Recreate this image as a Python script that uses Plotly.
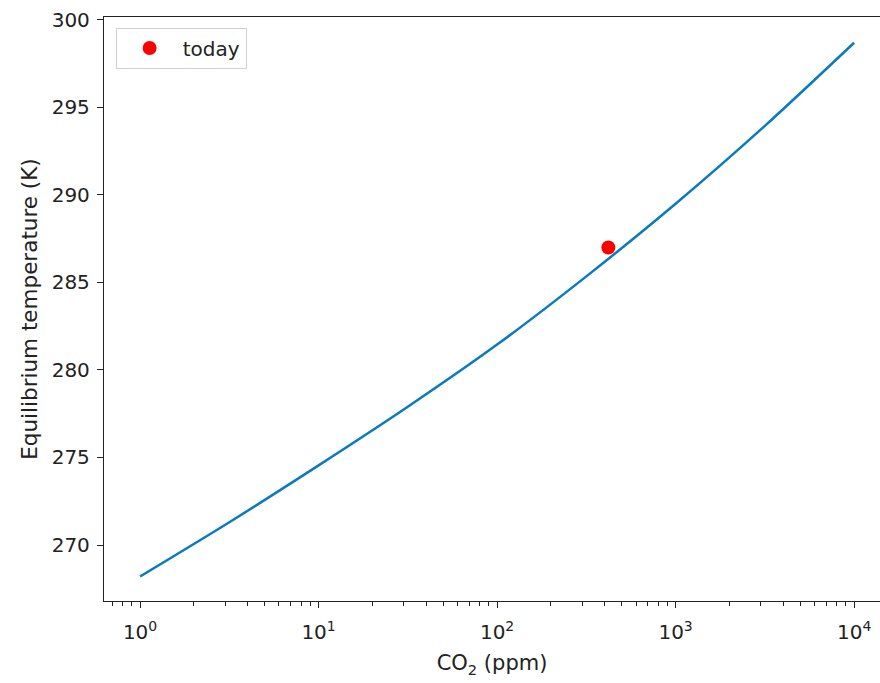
import numpy as np
import plotly.graph_objects as go

# Data
co2_ppm = [1, 3.162, 10, 31.62, 100, 316.2, 1000, 3162, 10000]
temp_k = [268.2, 271.3, 274.55, 277.9, 281.45, 285.35, 289.5, 293.95, 298.7]
today_co2 = [420]
today_temp = [287.0]

x_tick_vals = [1, 10, 100, 1000, 10000]
x_tick_text = ["10<sup>0</sup>", "10<sup>1</sup>", "10<sup>2</sup>", "10<sup>3</sup>", "10<sup>4</sup>"]
y_tick_vals = [270, 275, 280, 285, 290, 295, 300]

minor_vals = [m * 10 ** k for k in range(-1, 5) for m in range(2, 10)]

fig = go.Figure()
fig.add_trace(go.Scatter(x=co2_ppm, y=temp_k, mode="lines",
                         line=dict(color="#0a7abf", width=2.5, shape="spline", smoothing=0.8),
                         showlegend=False, hoverinfo="skip"))
fig.add_trace(go.Scatter(x=today_co2, y=today_temp, mode="markers",
                         marker=dict(color="red", size=14),
                         name="today"))

ink = "#222"
fig.update_layout(
    width=880, height=683,
    margin=dict(l=104, r=0, t=17, b=82),
    paper_bgcolor="white", plot_bgcolor="white",
    font=dict(family="DejaVu Sans", size=20, color=ink),
    legend=dict(x=0.015, y=0.982, xanchor="left", yanchor="top",
                bordercolor="#d0d0d0", borderwidth=1, bgcolor="white",
                font=dict(family="DejaVu Sans", size=20, color=ink),
                itemwidth=56),
    xaxis=dict(type="log", range=[np.log10(0.628), 4.145],
               tickvals=x_tick_vals, ticktext=x_tick_text,
               ticks="outside", ticklen=6, tickwidth=1.2, tickcolor=ink,
               ticklabelstandoff=7,
               showline=True, linecolor=ink, linewidth=1.3, mirror=True,
               showgrid=False, zeroline=False,
               minor=dict(tickvals=minor_vals, ticks="outside", ticklen=3.5,
                          tickwidth=1, tickcolor=ink, showgrid=False),
               title=dict(text="CO<sub>2</sub> (ppm)", standoff=12,
                          font=dict(family="DejaVu Sans", size=21, color=ink)),
               tickfont=dict(family="DejaVu Sans", size=20, color=ink)),
    yaxis=dict(range=[266.8, 300.17],
               tickvals=y_tick_vals,
               ticks="outside", ticklen=6, tickwidth=1.2, tickcolor=ink,
               ticklabelstandoff=3,
               showline=True, linecolor=ink, linewidth=1.3, mirror=False,
               showgrid=False, zeroline=False,
               title=dict(text="Equilibrium temperature (K)", standoff=8,
                          font=dict(family="DejaVu Sans", size=21.5, color=ink)),
               tickfont=dict(family="DejaVu Sans", size=20, color=ink)),
)

fig.write_html("out.html")
